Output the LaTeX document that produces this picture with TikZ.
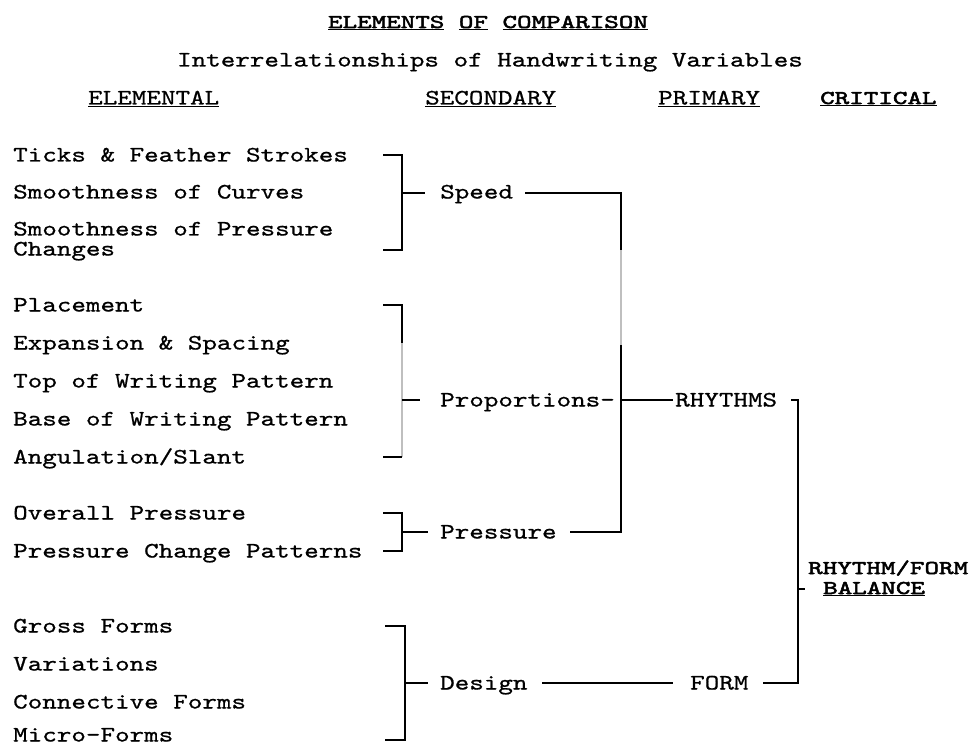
\documentclass[tikz,border=0pt]{standalone}
\usepackage{fontspec}
\setmonofont{lmmono10-regular.otf}[FakeStretch=1.26,FakeBold=0.8]
\newfontfamily\ttbold{lmmono10-regular.otf}[FakeStretch=1.42,FakeBold=2.6]
\begin{document}
\begin{tikzpicture}[x=1pt,y=-1pt,
  txt/.style={anchor=base west, yshift=-6.5pt, inner sep=0pt, font=\ttfamily\fontsize{22}{18}\selectfont},
  btxt/.style={anchor=base west, yshift=-6pt, inner sep=0pt, font=\ttbold\fontsize{19.5}{18}\selectfont},
  ln/.style={line width=1.8pt, line cap=butt, line join=miter},
  lg/.style={line width=1.8pt, draw=black!25}]
\useasboundingbox (0,0) rectangle (972,746);
% titles
\node[btxt, anchor=base] (title) at (488,22) {\underline{ELEMENTS} \underline{OF} \underline{COMPARISON}};
\node[txt, anchor=base] (sub) at (490,60) {Interrelationships of Handwriting Variables};
\node[txt] (hel) at (88,98) {\underline{ELEMENTAL}};
\node[txt] (hse) at (425,98) {\underline{SECONDARY}};
\node[txt] (hpr) at (658,98) {\underline{PRIMARY}};
\node[btxt] (hcr) at (820,98) {\underline{CRITICAL}};
% elemental
\node[txt] (e1) at (13,155) {Ticks \& Feather Strokes};
\node[txt] (e2) at (13,192) {Smoothness of Curves};
\node[txt] (e3) at (13,229) {Smoothness of Pressure};
\node[txt] (e3b) at (13,249) {Changes};
\node[txt] (e4) at (13,305) {Placement};
\node[txt] (e5) at (13,343) {Expansion \& Spacing};
\node[txt] (e6) at (13,381) {Top of Writing Pattern};
\node[txt] (e7) at (13,419) {Base of Writing Pattern};
\node[txt] (e8) at (13,457) {Angulation/Slant};
\node[txt] (e9) at (13,513) {Overall Pressure};
\node[txt] (e10) at (13,551) {Pressure Change Patterns};
\node[txt] (e11) at (13,626) {Gross Forms};
\node[txt] (e12) at (13,664) {Variations};
\node[txt] (e13) at (13,702) {Connective Forms};
\node[txt] (e14) at (13,735) {Micro-Forms};
% secondary
\node[txt] (speed) at (440,192) {Speed};
\node[txt] (prop) at (440,400) {Proportions-};
\node[txt] (press) at (440,532) {Pressure};
\node[txt] (design) at (440,683) {Design};
% primary
\node[txt] (rhy) at (675,400) {RHYTHMS};
\node[txt] (form) at (690,683) {FORM};
% critical
\node[btxt] (crit) at (808,568) {RHYTHM/FORM};
\node[btxt] (bal) at (823,588) {\underline{BALANCE}};
% connector coordinates
\coordinate (b1t) at (383,155); \coordinate (b1b) at (383,250); \coordinate (b1m) at (425,193);
\coordinate (b2t) at (383,305); \coordinate (b2b) at (383,457); \coordinate (b2m) at (420,400);
\coordinate (b3t) at (383,513); \coordinate (b3b) at (383,551); \coordinate (b3m) at (428,532);
\coordinate (b4t) at (385,626); \coordinate (b4b) at (385,740); \coordinate (b4m) at (428,683);
\coordinate (sp) at (525,193); \coordinate (v1) at (621,193); \coordinate (v2) at (621,532);
\coordinate (pr) at (570,532); \coordinate (v1r) at (621,400); \coordinate (rh) at (673,400);
\coordinate (de) at (542,683); \coordinate (fo) at (673,683); \coordinate (fr) at (763,683);
\coordinate (v3t) at (791,400); \coordinate (v3b) at (798,683); \coordinate (v3m) at (805,589);
% speed bracket
\draw[ln] (b1t) -| (402,250) -- (b1b);
\draw[ln] (402,193) -- (b1m);
% proportions bracket
\draw[ln] (b2t) -| (402,343);
\draw[lg] (402,343) -- (402,457);
\draw[ln] (402,457) -- (b2b);
\draw[ln] (402,400) -- (b2m);
% pressure bracket
\draw[ln] (b3t) -| (402,551) -- (b3b);
\draw[ln] (402,532) -- (b3m);
% design bracket
\draw[ln] (b4t) -| (405,740) -- (b4b);
\draw[ln] (405,683) -- (b4m);
% to rhythms
\draw[ln] (sp) -- (v1) -- (621,250);
\draw[lg] (621,250) -- (621,345);
\draw[ln] (621,345) -- (v2) -- (pr);
\draw[ln] (v1r) -- (rh);
% design to form
\draw[ln] (de) -- (fo);
% critical bracket
\draw[ln] (v3t) -- (798,400) -- (v3b) -- (fr);
\draw[ln] (798,589) -- (v3m);
\end{tikzpicture}
\end{document}
